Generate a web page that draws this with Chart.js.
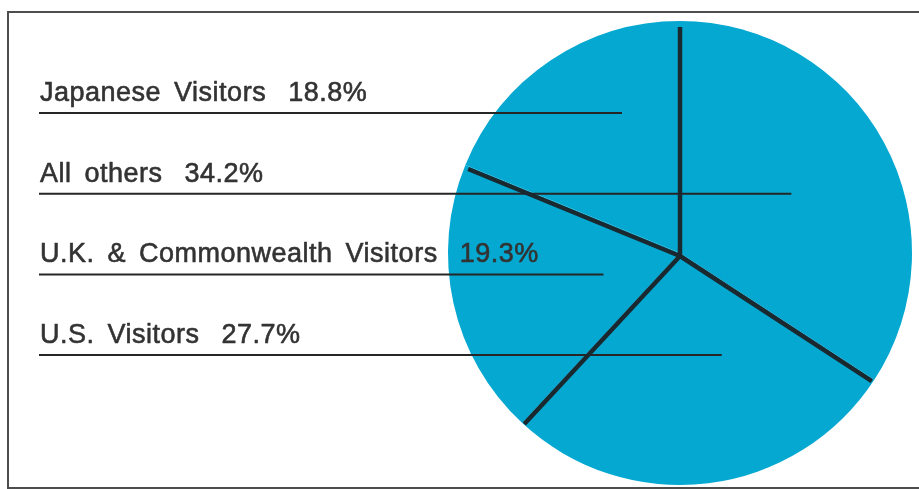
<!DOCTYPE html>
<html>
<head>
<meta charset="utf-8">
<script src="https://cdn.jsdelivr.net/npm/chart.js@4.4.1/dist/chart.umd.min.js"></script>
<style>
  html, body { margin: 0; padding: 0; background: #fff; }
  #wrap { width: 919px; height: 489px; }
</style>
</head>
<body>
<div id="wrap"><canvas id="visitors" width="919" height="489"></canvas></div>
<script>
// Visitor shares, in pie order (clockwise from twelve o'clock)
const categories = ['All others', 'U.S. Visitors', 'U.K. & Commonwealth Visitors', 'Japanese Visitors'];
const shares = [34.2, 27.7, 19.3, 18.8];

// Order in which the captions are listed, top to bottom (indices into categories)
const listOrder = [3, 0, 2, 1];

// Where each caption's rule stops, as a fraction of the radius from the pie centre
const leaderReach = [0.48, 0.18, -0.33, -0.25];

const PIE_COLOR = '#04a8d0';
const INK = '#333333';
const RULE = '#262626';
const SEPARATOR = '#1a2830';

const layoutText = {
  left: 40,
  firstRule: 113,
  step: 80.7,
  baselineGap: 12,
  valueGap: 22,
  font: '27px "Liberation Sans", Arial, sans-serif'
};

// White page with the thin frame round the figure
const framePlugin = {
  id: 'frame',
  beforeDraw(chart) {
    const ctx = chart.ctx;
    ctx.save();
    ctx.fillStyle = '#ffffff';
    ctx.fillRect(0, 0, chart.width, chart.height);
    ctx.strokeStyle = '#4d4d4d';
    ctx.lineWidth = 2;
    ctx.strokeRect(8, 12, chart.width + 20, 476);
    ctx.restore();
  }
};

// Captions with their rules running into the slices, then the slice dividers
const captionPlugin = {
  id: 'captions',
  afterDatasetsDraw(chart) {
    const ctx = chart.ctx;
    const arcs = chart.getDatasetMeta(0).data;
    const values = chart.data.datasets[0].data;
    ctx.save();

    listOrder.forEach((idx, row) => {
      const arc = arcs[idx].getProps(['x', 'y', 'outerRadius'], true);
      const ruleY = layoutText.firstRule + row * layoutText.step;
      const endX = arc.x + leaderReach[idx] * arc.outerRadius;

      ctx.strokeStyle = RULE;
      ctx.lineWidth = 2;
      ctx.beginPath();
      ctx.moveTo(layoutText.left - 1, ruleY);
      ctx.lineTo(endX, ruleY);
      ctx.stroke();

      ctx.font = layoutText.font;
      if ('letterSpacing' in ctx) ctx.letterSpacing = '0.5px';
      if ('wordSpacing' in ctx) ctx.wordSpacing = '5px';
      ctx.fillStyle = INK;
      ctx.strokeStyle = INK;
      ctx.lineWidth = 0.6;
      ctx.lineJoin = 'round';
      ctx.textBaseline = 'alphabetic';
      ctx.textAlign = 'left';
      const baseY = ruleY - layoutText.baselineGap;
      const name = chart.data.labels[idx];
      const value = values[idx].toFixed(1) + '%';
      const w = ctx.measureText(name).width;
      const vx = layoutText.left + w + layoutText.valueGap;
      ctx.fillText(name, layoutText.left, baseY);
      ctx.strokeText(name, layoutText.left, baseY);
      ctx.fillText(value, vx, baseY);
      ctx.strokeText(value, vx, baseY);
    });

    ctx.strokeStyle = SEPARATOR;
    ctx.lineWidth = 4.5;
    ctx.lineCap = 'butt';
    arcs.forEach(el => {
      const a = el.getProps(['x', 'y', 'startAngle', 'outerRadius'], true);
      const r = a.outerRadius - 3;
      ctx.beginPath();
      ctx.moveTo(a.x, a.y + 3);
      ctx.lineTo(a.x + r * Math.cos(a.startAngle), a.y + 3 + r * Math.sin(a.startAngle));
      ctx.stroke();
    });

    ctx.restore();
  }
};

new Chart(document.getElementById('visitors'), {
  type: 'pie',
  data: {
    labels: categories,
    datasets: [{
      data: shares,
      backgroundColor: PIE_COLOR,
      borderWidth: 0,
      offset: 0,
      hoverOffset: 0
    }]
  },
  options: {
    responsive: false,
    animation: false,
    events: [],
    layout: { padding: { left: 448, right: 7, top: 21, bottom: 4 } },
    plugins: {
      legend: { display: false },
      tooltip: { enabled: false }
    }
  },
  plugins: [framePlugin, captionPlugin]
});
</script>
</body>
</html>
